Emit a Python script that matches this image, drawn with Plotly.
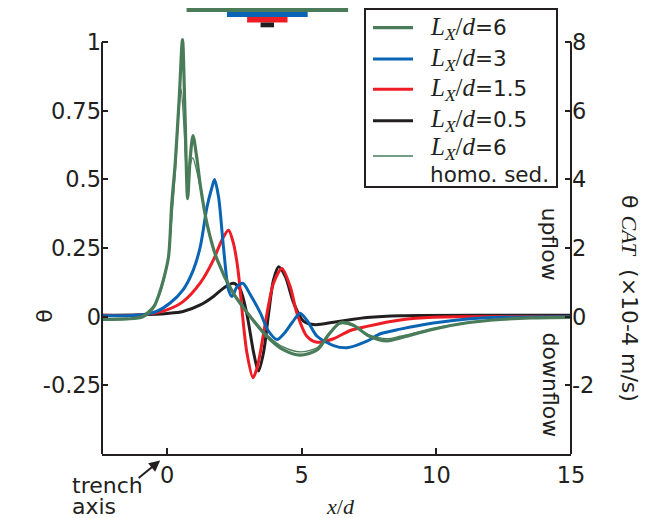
import plotly.graph_objects as go

# ---------------- data ----------------
x_green = [-2.42, -1.5, -0.9, -0.5, -0.33, -0.14, 0.05, 0.17, 0.3, 0.45, 0.57, 0.66, 0.76,
           0.85, 0.96, 1.1, 1.23, 1.5, 1.85, 2.45, 3.09, 3.71, 4.31, 4.94, 5.58, 6.0, 6.43,
           6.9, 7.5, 8.17, 8.66, 9.89, 11.15, 12.38, 13.49, 15.0]
y_green = [-0.01, -0.008, 0.0, 0.035, 0.074, 0.134, 0.218, 0.41, 0.56, 0.8, 1.01, 0.75, 0.43,
           0.57, 0.66, 0.58, 0.48, 0.33, 0.21, 0.087, 0.0, -0.072, -0.12, -0.14, -0.12, -0.065,
           -0.022, -0.03, -0.07, -0.088, -0.077, -0.045, -0.022, -0.01, -0.004, -0.002]

x_green_homo = [-2.42, -1.5, -1.0, -0.6, -0.3, -0.1, 0.05, 0.15, 0.3, 0.42, 0.52, 0.62, 0.74,
                0.85, 0.95, 1.1, 1.25, 1.5, 1.85, 2.45, 3.09, 3.71, 4.31, 4.94, 5.58, 6.0, 6.43,
                6.9, 7.5, 8.17, 8.66, 9.89, 11.15, 12.38, 13.49, 15.0]
y_green_homo = [-0.013, -0.009, 0.0, 0.03, 0.075, 0.14, 0.22, 0.33, 0.52, 0.72, 0.83, 0.7, 0.51,
                0.55, 0.58, 0.53, 0.46, 0.33, 0.21, 0.087, 0.003, -0.066, -0.11, -0.128, -0.112,
                -0.062, -0.026, -0.033, -0.066, -0.08, -0.071, -0.043, -0.021, -0.01, -0.004, -0.002]

x_blue = [-2.42, -1.0, -0.38, 0.11, 0.59, 0.97, 1.23, 1.48, 1.66, 1.76, 1.91, 2.09, 2.28, 2.41,
          2.6, 2.81, 3.09, 3.46, 3.75, 4.08, 4.35, 4.65, 4.94, 5.24, 5.57, 6.18, 6.68, 7.42,
          7.92, 8.66, 9.89, 11.15, 12.38, 15.0]
y_blue = [0.004, 0.006, 0.02, 0.05, 0.098, 0.17, 0.255, 0.4, 0.47, 0.5, 0.436, 0.255, 0.098,
          0.074, 0.11, 0.122, 0.08, 0.014, -0.05, -0.083, -0.06, -0.02, 0.013, -0.02, -0.071,
          -0.105, -0.113, -0.089, -0.062, -0.045, -0.023, -0.008, -0.002, 0.0]

x_red = [-2.42, -1.0, -0.01, 0.59, 1.23, 1.72, 2.03, 2.28, 2.46, 2.59, 2.69, 2.78, 2.96, 3.19,
         3.33, 3.46, 3.71, 3.95, 4.26, 4.57, 4.82, 5.19, 5.57, 6.18, 6.8, 7.42, 8.66, 9.89, 15.0]
y_red = [0.005, 0.006, 0.025, 0.055, 0.123, 0.207, 0.279, 0.315, 0.268, 0.2, 0.12, 0.025, -0.13,
         -0.222, -0.19, -0.13, 0.013, 0.122, 0.176, 0.11, 0.013, -0.071, -0.093, -0.08, -0.05,
         -0.035, -0.012, -0.002, 0.0]

x_black = [-2.42, -1.0, 0.0, 0.59, 1.23, 1.72, 2.09, 2.46, 2.71, 2.96, 3.21, 3.39, 3.58, 3.77,
           3.95, 4.14, 4.39, 4.7, 5.07, 5.5, 6.18, 6.8, 7.42, 8.66, 15.0]
y_black = [0.005, 0.007, 0.012, 0.019, 0.043, 0.074, 0.104, 0.122, 0.1, 0.01, -0.13, -0.198,
           -0.13, 0.013, 0.134, 0.182, 0.146, 0.05, -0.017, -0.029, -0.02, -0.011, -0.003,
           0.004, 0.005]

# Lx/d widths of the bars drawn above the plot, centred on the same x
bar_widths = [6, 3, 1.5, 0.5]
bar_center = 3.72

x_ticks = [0, 5, 10, 15]
y_ticks = [-0.25, 0, 0.25, 0.5, 0.75, 1]
y_tick_text = ["-0.25", "0", "0.25", "0.5", "0.75", "1"]
y2_ticks = [-2, 0, 2, 4, 6, 8]
y2_tick_text = ["-2", "0", "2", "4", "6", "8"]

legend_values = ["6", "3", "1.5", "0.5", "6"]

# ---------------- styling ----------------
GREEN = "#4a7c5a"
BLUE = "#0a64b4"
RED = "#ee1c25"
BLACK = "#231f20"
SANS = "DejaVu Sans"
SERIF = "Liberation Serif"

# page is offset by the 8px body margin: figure 642x510 fills the 650x518 window
W, H = 642, 510
ML, MR, MT, MB = 94, 79, 26, 64
PW, PH = W - ML - MR, H - MT - MB
OFF = 8


def px(xp):  # window pixel -> paper x
    return (xp - OFF - ML) / PW


def py(yp):  # window pixel -> paper y
    return (H - MB - (yp - OFF)) / PH


def lx_label(val):
    return ("<span style='font-family:Liberation Serif;font-size:25px'><i>L</i>"
            "<sub><i>X</i></sub>/<i>d</i></span>=" + val)


series = [  # (x, y, colour, width, name)
    (x_black, y_black, BLACK, 3, "Lx/d=0.5"),
    (x_red, y_red, RED, 3, "Lx/d=1.5"),
    (x_blue, y_blue, BLUE, 3, "Lx/d=3"),
    (x_green, y_green, GREEN, 3.2, "Lx/d=6"),
    (x_green_homo, y_green_homo, GREEN, 1.3, "Lx/d=6 homo. sed."),
]

fig = go.Figure()
for xs, ys, c, w, nm in series:
    fig.add_trace(go.Scatter(x=xs, y=ys, mode="lines", name=nm, showlegend=False,
                             line=dict(color=c, width=w, shape="spline", smoothing=0.8)))
# empty trace so that the right-hand axis is drawn
fig.add_trace(go.Scatter(x=[None], y=[None], yaxis="y2", mode="lines", showlegend=False,
                         hoverinfo="skip"))

# top bars
bar_colors = [GREEN, BLUE, RED, BLACK]
bar_px = [(7.3, 12.0), (12.0, 17.0), (17.0, 22.5), (22.5, 27.3)]
shapes = []
for w, c, (ya, yb) in zip(bar_widths, bar_colors, bar_px):
    shapes.append(dict(type="rect", xref="x", yref="paper", x0=bar_center - w / 2,
                       x1=bar_center + w / 2, y0=py(yb), y1=py(ya), fillcolor=c,
                       line=dict(width=0)))
# left and right axis lines, from -0.5 up to 1
for xp in (0, 1):
    shapes.append(dict(type="line", xref="paper", yref="y", x0=xp, x1=xp, y0=-0.5, y1=1.0,
                       line=dict(color=BLACK, width=2)))

# legend box, drawn by hand
shapes.append(dict(type="rect", xref="paper", yref="paper", x0=px(365), x1=px(557),
                   y0=py(187), y1=py(9), fillcolor="white", line=dict(color=BLACK, width=2)))
legend_colors = [GREEN, BLUE, RED, BLACK, GREEN]
legend_widths = [3.2, 3, 3, 3, 1.3]
sample_y = [27.7, 59, 89.3, 120.7, 156]
text_y = [28, 59, 89.3, 120.7, 148]
for c, w, sy in zip(legend_colors, legend_widths, sample_y):
    shapes.append(dict(type="line", xref="paper", yref="paper", x0=px(373), x1=px(413),
                       y0=py(sy), y1=py(sy), line=dict(color=c, width=w)))

tickfont = dict(family=SANS, size=22.5, color=BLACK)
fig.update_layout(
    template="none",
    width=W, height=H,
    margin=dict(l=ML, r=MR, t=MT, b=MB, autoexpand=False),
    paper_bgcolor="white", plot_bgcolor="white",
    shapes=shapes,
    showlegend=False,
    xaxis=dict(range=[-2.42, 15], tickvals=x_ticks, ticks="inside", ticklen=6, tickwidth=2,
               tickcolor=BLACK, showgrid=False, zeroline=False, showline=True, linewidth=2,
               linecolor=BLACK, tickfont=tickfont, automargin=False),
    yaxis=dict(range=[-0.5, 1.03], tickvals=y_ticks, ticktext=y_tick_text, ticks="inside",
               ticklen=6, tickwidth=2, tickcolor=BLACK, showgrid=False, zeroline=False,
               showline=False, tickfont=tickfont, automargin=False),
    yaxis2=dict(range=[-4, 8.24], overlaying="y", side="right", tickvals=y2_ticks,
                ticktext=y2_tick_text, ticks="inside", ticklen=6, tickwidth=2, tickcolor=BLACK,
                showgrid=False, zeroline=False, showline=False, tickfont=tickfont,
                automargin=False),
)

leg_font = dict(family=SANS, size=21.5, color=BLACK)
for v, ty in zip(legend_values, text_y):
    fig.add_annotation(xref="paper", yref="paper", x=px(428), y=py(ty), xanchor="left",
                       yanchor="middle", text=lx_label(v), showarrow=False, font=leg_font)
fig.add_annotation(xref="paper", yref="paper", x=px(428), y=py(174), xanchor="left",
                   yanchor="middle", text="homo. sed.", showarrow=False, font=leg_font)

ann_font = dict(family=SANS, size=22, color=BLACK)
fig.add_annotation(xref="paper", yref="y", x=px(45), y=0.0, xanchor="center", yanchor="middle",
                   text="θ", textangle=-90, showarrow=False, font=ann_font)
fig.add_annotation(xref="paper", yref="y", x=px(630), y=0.068, xanchor="center",
                   yanchor="middle",
                   text="θ <span style='font-family:Liberation Serif'><i>CAT</i></span>  (×10-4 m/s)",
                   textangle=90, showarrow=False, font=ann_font)
fig.add_annotation(xref="paper", yref="y", x=px(550), y=0.267, xanchor="center",
                   yanchor="middle", text="upflow", textangle=90, showarrow=False, font=ann_font)
fig.add_annotation(xref="paper", yref="y", x=px(550), y=-0.247, xanchor="center",
                   yanchor="middle", text="downflow", textangle=90, showarrow=False,
                   font=ann_font)
fig.add_annotation(xref="x", yref="paper", x=6.43, y=py(506), xanchor="center",
                   yanchor="middle", text="<i>x</i>/<i>d</i>", showarrow=False,
                   font=dict(family=SERIF, size=22, color=BLACK))
fig.add_annotation(xref="paper", yref="paper", x=px(70), y=py(485), xanchor="left",
                   yanchor="middle", text="trench", showarrow=False, font=ann_font)
fig.add_annotation(xref="paper", yref="paper", x=px(70), y=py(506), xanchor="left",
                   yanchor="middle", text="axis", showarrow=False, font=ann_font)
fig.add_annotation(xref="x", yref="paper", x=-0.26, y=py(460.5), ax=-22, ay=18, text="",
                   showarrow=True, arrowhead=2, arrowsize=1.1, arrowwidth=2, standoff=0,
                   arrowcolor=BLACK, font=dict(size=1), borderpad=0)

fig.write_html("out.html")
